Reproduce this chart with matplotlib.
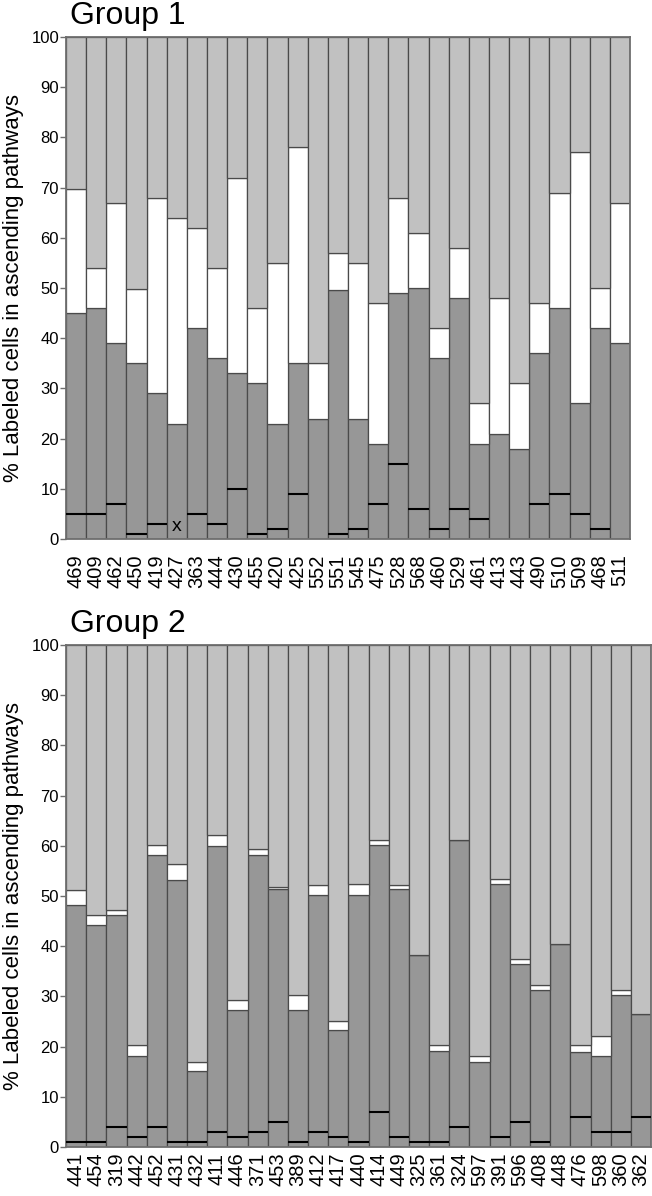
import matplotlib.pyplot as plt
import numpy as np

plt.rcParams['font.family'] = ['Liberation Sans', 'DejaVu Sans']

# Group 1 data: a = bottom segment line, b = top of dark segment, c = top of white segment
g1_labels = ["469", "409", "462", "450", "419", "427", "363", "444", "430", "455",
             "420", "425", "552", "551", "545", "475", "528", "568", "460", "529",
             "461", "413", "443", "490", "510", "509", "468", "511"]
g1_a = [5, 5, 7, 1, 3, 0, 5, 3, 10, 1, 2, 9, 0, 1, 2, 7, 15, 6, 2, 6, 4, 0, 0, 7, 9, 5, 2, 0]
g1_b = [45, 46, 39, 35, 29, 23, 42, 36, 33, 31, 23, 35, 24, 49.7, 24, 19, 49, 50, 36, 48,
        19, 21, 18, 37, 46, 27, 42, 39]
g1_c = [69.8, 54, 67, 49.8, 68, 64, 62, 54, 72, 46, 55, 78, 35, 57, 55, 47, 68, 61, 42, 58,
        27, 48, 31, 47, 69, 77, 50, 67]

# Group 2 data
g2_labels = ["441", "454", "319", "442", "452", "431", "432", "411", "446", "371",
             "453", "389", "412", "417", "440", "414", "449", "325", "361", "324",
             "597", "391", "596", "408", "448", "476", "598", "360", "362"]
g2_a = [1, 1, 4, 2, 4, 1, 1, 3, 2, 3, 5, 1, 3, 2, 1, 7, 2, 1, 1, 4, 0, 2, 5, 1, 0, 6, 3, 3, 6]
g2_b = [48.3, 44.3, 46.3, 18.2, 58.2, 53.2, 15.1, 60, 27.2, 58.2, 51.3, 27.2, 50.2, 23.3,
        50.2, 60.1, 51.3, 38.3, 19.1, 61.1, 17, 52.3, 36.4, 31.3, 40.4, 18.9, 18.2, 30.3, 26.4]
g2_c = [51.2, 46.3, 47.3, 20.3, 60.2, 56.3, 17.0, 62.2, 29.2, 59.4, 51.8, 30.3, 52.2, 25.1,
        52.4, 61.1, 52.2, 38.3, 20.3, 61.1, 18.2, 53.3, 37.4, 32.2, 40.4, 20.3, 22.2, 31.3, 26.4]

dark = "#979797"
light = "#c1c1c1"
edge = "#4a4a4a"
frame = "#6e6e6e"


def draw_group(ax, labels, a, b, c, title, xpad):
    x = np.arange(len(labels))
    a = np.array(a, dtype=float)
    b = np.array(b, dtype=float)
    c = np.array(c, dtype=float)
    kw = dict(width=1.0, edgecolor=edge, linewidth=0.9)
    ax.bar(x, b, color=dark, **kw)
    ax.bar(x, c - b, bottom=b, color="white", **kw)
    ax.bar(x, 100 - c, bottom=c, color=light, **kw)
    m = a > 0
    ax.hlines(a[m], x[m] - 0.5, x[m] + 0.5, color="black", linewidth=1.5, zorder=3)

    ax.set_xlim(-0.5, len(labels) - 0.5)
    ax.set_ylim(0, 100)
    ax.set_yticks(range(0, 101, 10))
    ax.set_xticks(x)
    ax.set_xticklabels(labels, rotation=90, fontsize=14.5)
    ax.tick_params(axis='x', length=0, pad=xpad)
    ax.tick_params(axis='y', length=4, width=1, color=frame, labelsize=12, pad=1)
    for s in ax.spines.values():
        s.set_edgecolor(frame)
        s.set_linewidth(1.3)
    ax.set_ylabel("% Labeled cells in ascending pathways", fontsize=16, labelpad=5)
    ax.text(0.007, 1.012, title, transform=ax.transAxes, fontsize=23,
            ha='left', va='bottom')


fig = plt.figure(figsize=(6.52, 11.96), dpi=100)
ax1 = fig.add_axes([0.1012, 0.5493, 0.8651, 0.4198])
ax2 = fig.add_axes([0.1012, 0.0410, 0.8973, 0.4197])

draw_group(ax1, g1_labels, g1_a, g1_b, g1_c, "Group 1", 11)
draw_group(ax2, g2_labels, g2_a, g2_b, g2_c, "Group 2", 4)

# marker on bar 427
ax1.text(g1_labels.index("427"), 2.5, "x", ha='center', va='center', fontsize=14)

fig.savefig("out.png", dpi=100)
